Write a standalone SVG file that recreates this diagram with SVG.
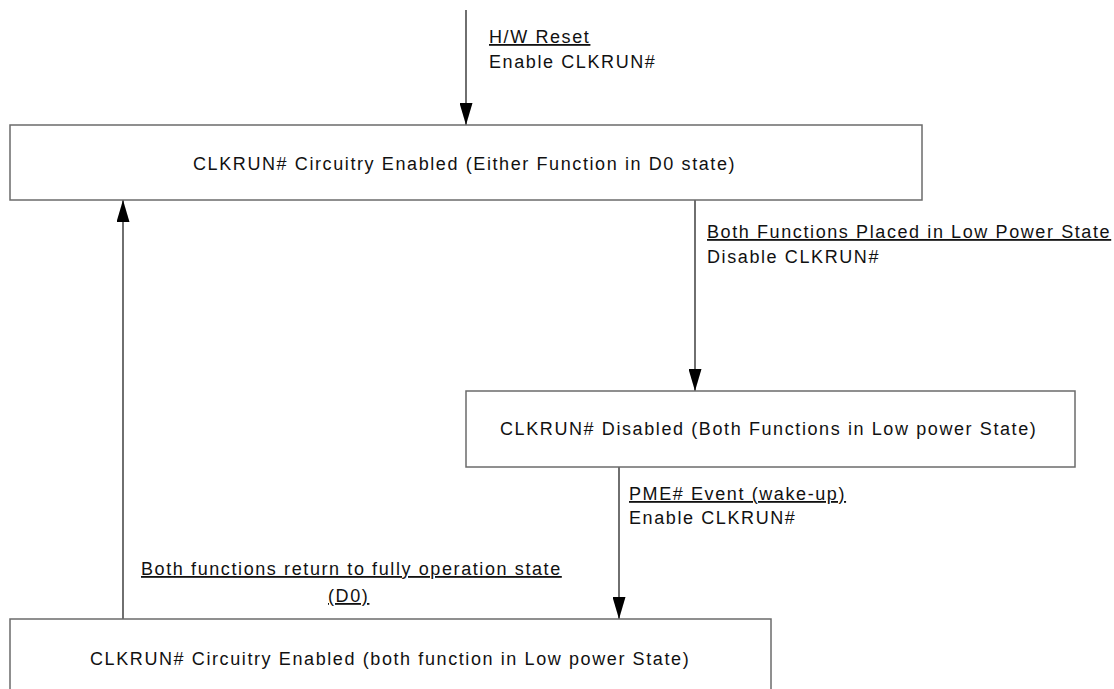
<svg xmlns="http://www.w3.org/2000/svg" width="1114" height="689" viewBox="0 0 1114 689">
<style>
.box{fill:#fff;stroke:#6b6b6b;stroke-width:1.5}
.t{font-family:"Liberation Sans",Arial,sans-serif;font-size:18px;letter-spacing:1.6px;fill:#111}
.u{text-decoration:underline}
.c{fill:none;stroke:#222;stroke-width:1.3}
</style>
<defs>
<marker id="ah" viewBox="0 0 22 13" refX="22" refY="6.5" markerWidth="22" markerHeight="13" markerUnits="userSpaceOnUse" orient="auto">
<path d="M0,0 L22,6.5 L0,13 Z" fill="#000"/>
</marker>
</defs>
<rect width="1114" height="689" fill="#fff"/>
<g id="connectors">
<line class="c" x1="466" y1="10" x2="466" y2="125" marker-end="url(#ah)"/>
<line class="c" x1="695" y1="200" x2="695" y2="391" marker-end="url(#ah)"/>
<line class="c" x1="619" y1="467" x2="619" y2="619" marker-end="url(#ah)"/>
<line class="c" x1="123" y1="619" x2="123" y2="200" marker-end="url(#ah)"/>
<text class="t u" x="489" y="43">H/W Reset</text>
<text class="t" x="489" y="68">Enable CLKRUN#</text>
<text class="t u" x="707" y="238">Both Functions Placed in Low Power State</text>
<text class="t" x="707" y="263">Disable CLKRUN#</text>
<text class="t u" x="629" y="500">PME# Event (wake-up)</text>
<text class="t" x="629" y="524">Enable CLKRUN#</text>
<text class="t u" x="141" y="575">Both functions return to fully operation state</text>
<text class="t u" x="328" y="602">(D0)</text>
</g>
<g id="node-enabled-d0">
<rect class="box" x="10" y="125" width="912" height="75"/>
<text class="t" x="193" y="170">CLKRUN# Circuitry Enabled (Either Function in D0 state)</text>
</g>
<g id="node-disabled">
<rect class="box" x="466" y="391" width="609" height="76"/>
<text class="t" x="500" y="435">CLKRUN# Disabled (Both Functions in Low power State)</text>
</g>
<g id="node-enabled-low">
<rect class="box" x="10" y="619" width="761" height="76"/>
<text class="t" x="90" y="665">CLKRUN# Circuitry Enabled (both function in Low power State)</text>
</g>
</svg>
